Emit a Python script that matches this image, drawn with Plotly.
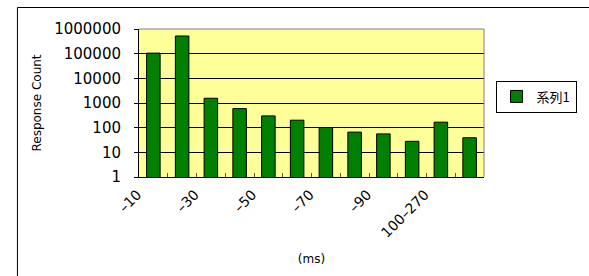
import plotly.graph_objects as go

categories = ["–10", "–20", "–30", "–40", "–50", "–60", "–70", "–80", "–90", "–100", "100–270", "270–"]
counts = [105000, 520000, 1560, 593, 300, 201, 101, 66, 56, 28, 167, 39]
y_tick_vals = [1, 10, 100, 1000, 10000, 100000, 1000000]
y_tick_text = ["1", "10", "100", "1000", "10000", "100000", "1000000"]
x_tick_text = [c if i % 2 == 0 else "" for i, c in enumerate(categories)]
series_name = "系列1"

W, H = 589, 276
L, R, T, B = 139, 91, 29, 99
pw, ph = W - L - R, H - T - B

def px(x):
    return (x - L) / pw

def py(y):
    return (H - B - y) / ph

fig = go.Figure()
fig.add_trace(go.Bar(
    x=categories, y=counts, name=series_name,
    marker=dict(color="#008000", line=dict(color="#000000", width=1)),
    showlegend=True,
))

font_family = "DejaVu Sans"
fig.update_layout(
    width=W, height=H,
    margin=dict(l=L, r=R, t=T, b=B, pad=0),
    paper_bgcolor="white",
    plot_bgcolor="#FFFF99",
    bargap=0.53,
    font=dict(family=font_family, color="#000000", size=13),
    showlegend=True,
    legend=dict(
        x=px(510), y=py(96.5), xanchor="left", yanchor="middle",
        bgcolor="white", bordercolor="#000000", borderwidth=1,
        font=dict(family="Noto Sans CJK JP", size=13),
        itemwidth=30, tracegroupgap=0,
    ),
    xaxis=dict(
        type="category",
        tickvals=categories, ticktext=x_tick_text,
        tickangle=-45,
        tickson="boundaries",
        ticks="inside", ticklen=4, tickcolor="#555555", tickwidth=1,
        showline=True, linecolor="#000000", linewidth=1,
        showgrid=False,
        tickfont=dict(family=font_family, size=14),
        ticklabelshift=-16,
        ticklabelstandoff=3,
        title=dict(text="(ms)", font=dict(family=font_family, size=12), standoff=14),
    ),
    yaxis=dict(
        type="log", range=[0, 6],
        tickvals=y_tick_vals, ticktext=y_tick_text,
        ticks="outside", ticklen=4, tickcolor="#000000",
        showline=True, linecolor="#000000", linewidth=1,
        showgrid=True, gridcolor="#000000", gridwidth=1,
        tickfont=dict(family=font_family, size=15),
        ticklabelstandoff=10,
        title=dict(text="Response Count", font=dict(family=font_family, size=12), standoff=9),
    ),
    shapes=[
        dict(type="line", xref="paper", yref="paper", x0=0, x1=1, y0=1, y1=1,
             line=dict(color="#808080", width=1), layer="above"),
        dict(type="line", xref="paper", yref="paper", x0=1, x1=1, y0=0, y1=1,
             line=dict(color="#808080", width=1), layer="above"),
        dict(type="rect", xref="paper", yref="paper",
             x0=px(12.5), x1=px(620), y0=py(300), y1=py(7.5),
             line=dict(color="#000000", width=1), fillcolor="rgba(0,0,0,0)", layer="below"),
    ],
)

fig.write_html(
    "out.html",
    config={"displayModeBar": False},
    post_script="document.body.style.margin='0px';document.body.style.overflow='hidden';",
)
